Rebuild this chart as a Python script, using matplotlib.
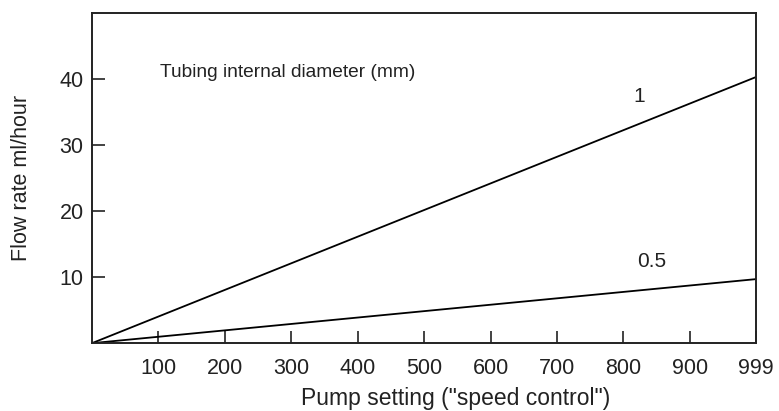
import matplotlib
matplotlib.use("Agg")
import matplotlib.pyplot as plt

# pump setting vs flow rate
pump_setting = [0, 999]
flow_1mm = [0, 40.3]
flow_05mm = [0, 9.7]

x_ticks = [100, 200, 300, 400, 500, 600, 700, 800, 900, 999]
y_ticks = [10, 20, 30, 40]

plt.rcParams["font.family"] = ["Liberation Sans", "DejaVu Sans"]
ink = "#222222"

fig = plt.figure(figsize=(7.79, 4.11), dpi=100)
ax = fig.add_axes([0.118, 0.165, 0.852, 0.803])

ax.plot(pump_setting, flow_1mm, color="black", linewidth=1.3)
ax.plot(pump_setting, flow_05mm, color="black", linewidth=1.3)

ax.set_xlim(0, 999)
ax.set_ylim(0, 50)
ax.set_xticks(x_ticks)
ax.set_yticks(y_ticks)
ax.tick_params(direction="in", length=9, width=1.2, labelsize=15.5,
               colors=ink)
ax.tick_params(axis="x", pad=11)
ax.tick_params(axis="y", pad=6)
for s in ax.spines.values():
    s.set_linewidth(1.4)
    s.set_color(ink)

ax.text(102, 41, "Tubing internal diameter (mm)", fontsize=13.8, color=ink,
        va="center")
ax.text(824, 37.3, "1", fontsize=15, color=ink, ha="center", va="center")
ax.text(842, 12.3, "0.5", fontsize=15, color=ink, ha="center", va="center")

ax.set_xlabel('Pump setting ("speed control")', fontsize=16.5, color=ink)
# the original label sits a little right of the axis centre
ax.xaxis.set_label_coords(0.548, -0.133)
ax.set_ylabel("Flow rate ml/hour", fontsize=15.5, color=ink, labelpad=20)

fig.savefig("out.png", dpi=100)
